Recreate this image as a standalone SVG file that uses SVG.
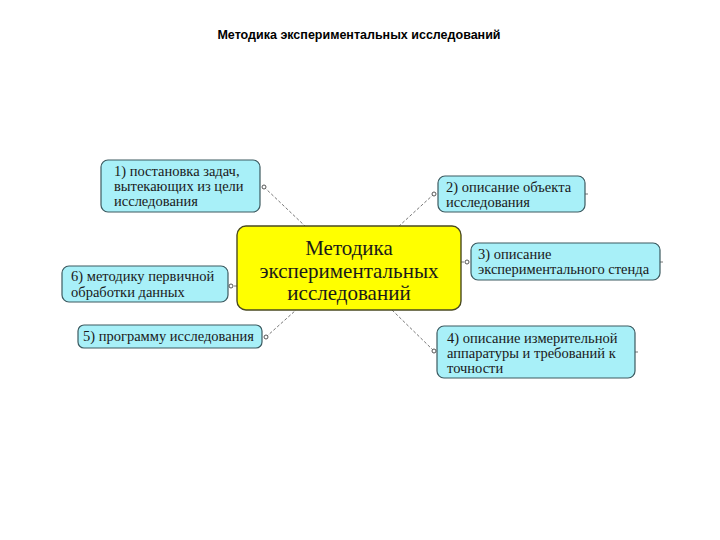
<svg xmlns="http://www.w3.org/2000/svg" width="720" height="540" viewBox="0 0 720 540">
<style>
.title{font-family:"Liberation Sans",Arial,sans-serif;font-weight:bold;font-size:12.5px;fill:#000}
.box{fill:#a8f0f8;stroke:#3c5a60;stroke-width:1.2}
.main{fill:#ffff00;stroke:#4a4a20;stroke-width:1.4}
.t{font-family:"Liberation Serif","Times New Roman",serif;font-size:14.5px;fill:#1a1a1a}
.mt{font-family:"Liberation Serif","Times New Roman",serif;font-size:21px;fill:#1a1a1a;text-anchor:middle}
.c{stroke:#777;stroke-width:1;stroke-dasharray:3,2;fill:none}
.dot{fill:#fff;stroke:#555;stroke-width:1}
</style>
<rect width="720" height="540" fill="#fff"/>
<text class="title" x="359" y="39" text-anchor="middle">Методика экспериментальных исследований</text>
<g id="connectors">
<line class="c" x1="264" y1="187" x2="306" y2="227"/>
<circle class="dot" cx="264" cy="187" r="2"/>
<line class="c" x1="434" y1="194" x2="398" y2="227"/>
<circle class="dot" cx="434" cy="194" r="2"/>
<line class="c" x1="461" y1="262" x2="467" y2="262"/>
<circle class="dot" cx="467" cy="262" r="2"/>
<line class="c" x1="237" y1="286" x2="231" y2="286"/>
<circle class="dot" cx="231" cy="286" r="2"/>
<line class="c" x1="266" y1="337" x2="296" y2="310"/>
<circle class="dot" cx="266" cy="337" r="2"/>
<line class="c" x1="392" y1="310" x2="434" y2="351"/>
<circle class="dot" cx="434" cy="351" r="2"/>
<line class="c" x1="585" y1="194" x2="590" y2="194"/>
<line class="c" x1="660" y1="262" x2="664" y2="262"/>
<line class="c" x1="635" y1="352" x2="639" y2="352"/>
</g>
<g id="main">
<rect class="main" x="237" y="226" width="224" height="84" rx="9"/>
<text class="mt" x="349" y="255">Методика</text>
<text class="mt" x="349" y="278">экспериментальных</text>
<text class="mt" x="349" y="300">исследований</text>
</g>
<g id="n1">
<rect class="box" x="101" y="160" width="159" height="52" rx="7"/>
<text class="t" x="114" y="176">1) постановка задач,</text>
<text class="t" x="114" y="191">вытекающих из цели</text>
<text class="t" x="114" y="206">исследования</text>
</g>
<g id="n2">
<rect class="box" x="438" y="176" width="147" height="36" rx="7"/>
<text class="t" x="446" y="192">2) описание объекта</text>
<text class="t" x="446" y="207">исследования</text>
</g>
<g id="n3">
<rect class="box" x="471" y="243" width="189" height="37" rx="7"/>
<text class="t" x="478" y="259">3) описание</text>
<text class="t" x="478" y="274">экспериментального стенда</text>
</g>
<g id="n6">
<rect class="box" x="62" y="266" width="166" height="36" rx="7"/>
<text class="t" x="71" y="281">6) методику первичной</text>
<text class="t" x="71" y="297">обработки данных</text>
</g>
<g id="n5">
<rect class="box" x="78" y="325" width="184" height="23" rx="6"/>
<text class="t" x="83" y="341">5) программу исследования</text>
</g>
<g id="n4">
<rect class="box" x="437" y="326" width="198" height="52" rx="7"/>
<text class="t" x="447" y="343">4) описание измерительной</text>
<text class="t" x="447" y="358">аппаратуры и требований к</text>
<text class="t" x="447" y="373">точности</text>
</g>
</svg>
